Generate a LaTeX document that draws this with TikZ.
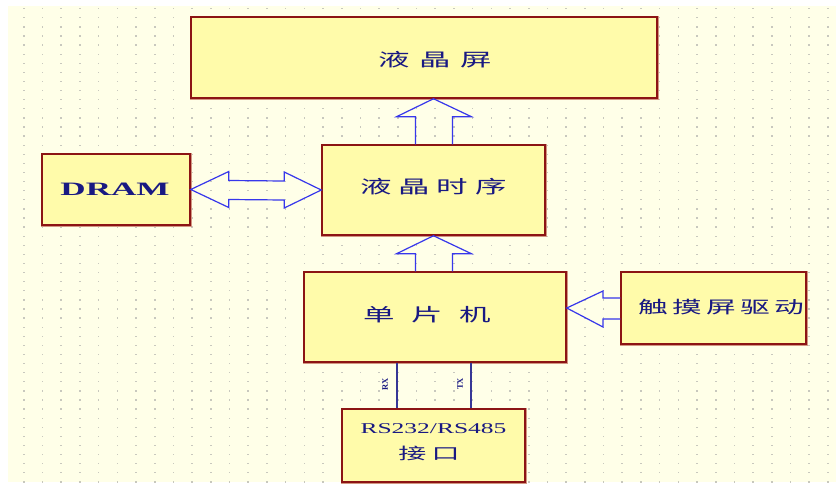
\documentclass[tikz,border=0pt]{standalone}
\usepackage{fontspec}
\usepackage{graphicx}
\setmainfont{Liberation Serif}
\newfontfamily\cjk{Noto Sans CJK SC}
\usetikzlibrary{calc}
\definecolor{bgc}{RGB}{255,255,232}
\definecolor{dotc}{RGB}{200,200,190}
\definecolor{boxfill}{RGB}{255,251,170}
\definecolor{boxline}{RGB}{140,20,20}
\definecolor{boxshadow}{RGB}{210,150,130}
\definecolor{txtc}{RGB}{25,25,130}
\definecolor{arrc}{RGB}{55,55,235}
\definecolor{linec}{RGB}{55,55,150}
\newcommand{\cntext}[2]{\scalebox{1.75}[1]{\fontsize{#1}{#1}\selectfont\cjk #2}}
\begin{document}
\begin{tikzpicture}[x=1pt,y=-1pt,
  box/.style={draw=boxline, fill=boxfill, line width=1.5pt, inner sep=0pt,
    preaction={draw=boxshadow, line width=3pt}},
  txt/.style={text=txtc, inner sep=0pt, anchor=center},
  blockarrow/.style={draw=arrc, line width=1.2pt, line join=miter},
  link/.style={draw=linec, line width=2.6pt},
  tiny/.style={text=txtc, inner sep=0pt, font=\fontsize{8.5}{8.5}\selectfont\bfseries, rotate=90}]
\useasboundingbox (0,0) rectangle (836,485);
\fill[white] (0,0) rectangle (836,485);
\fill[bgc] (8,6) rectangle (836,482);
\foreach \i in {0,...,43} {
  \foreach \j in {0,...,52} {
    \fill[dotc] ({23+18.7*\i},{8+9.1*\j}) rectangle ++(1.6,1.3);
  }
}
% boxes
\node[box, minimum width=466pt, minimum height=81pt] (lcd) at (424,57.5) {};
\node[box, minimum width=148pt, minimum height=71pt] (dram) at (116,189.5) {};
\node[box, minimum width=223pt, minimum height=90pt] (tm) at (433.5,190) {};
\node[box, minimum width=262pt, minimum height=90pt] (mcu) at (435,317) {};
\node[box, minimum width=185pt, minimum height=72pt] (touch) at (713.5,308) {};
\node[box, minimum width=183pt, minimum height=73pt] (rs) at (433.5,445.5) {};
% texts
\node[txt] (lcdt) at (435,60) {\cntext{18}{液\kern5.3pt 晶\kern5.3pt 屏}};
\node[txt] (dramt) at (115,189) {\scalebox{1.95}[1.05]{\fontsize{18}{18}\selectfont\bfseries DRAM}};
\node[txt] (tmt) at (433.5,187) {\cntext{18}{液\kern4pt 晶\kern4pt 时\kern4pt 序}};
\node[txt] (mcut) at (427.5,315) {\cntext{18}{单\kern9.5pt 片\kern9.5pt 机}};
\node[txt] (toucht) at (721,307.5) {\cntext{17}{触\kern2.4pt 摸\kern2.4pt 屏\kern2.4pt 驱\kern2.4pt 动}};
\node[txt] (rst1) at (433.5,429) {\scalebox{1.7}[1]{\fontsize{15}{15}\selectfont RS232/RS485}};
\node[txt] (rst2) at (429,453) {\cntext{16}{接\kern3pt 口}};
% up arrow tm -> lcd
\coordinate (t1) at (tm.north |- lcd.south);
\draw[blockarrow] ($(tm.north)+(-18,0)$) -- ($(t1)+(-18,18)$) -- ($(t1)+(-37,18)$) -- (t1)
  -- ($(t1)+(38,18)$) -- ($(t1)+(19,18)$) -- ($(tm.north)+(19,0)$);
% up arrow mcu -> tm
\coordinate (t2) at (tm.south);
\draw[blockarrow] ($(t2 |- mcu.north)+(-18,0)$) -- ($(t2)+(-18,18)$) -- ($(t2)+(-37,18)$) -- (t2)
  -- ($(t2)+(38,18)$) -- ($(t2)+(19,18)$) -- ($(t2 |- mcu.north)+(19,0)$);
% double arrow dram <-> tm
\coordinate (dl) at (dram.east);
\coordinate (dr) at (tm.west);
\draw[blockarrow] (dl) -- ($(dl)+(38,-18)$) -- ($(dl)+(38,-9)$) -- ($(dr)+(-37,-9)$) -- ($(dr)+(-37,-18)$)
  -- (dr) -- ($(dr)+(-37,18)$) -- ($(dr)+(-37,10)$) -- ($(dl)+(38,10)$) -- ($(dl)+(38,18)$) -- cycle;
% left arrow touch -> mcu
\coordinate (t3) at (mcu.east |- touch.west);
\draw[blockarrow] (touch.west |- 0,298) -- (603,298) -- (603,291) -- (t3) -- (603,327) -- (603,319) -- (touch.west |- 0,319);
% links mcu <-> rs
\coordinate (la) at ($(mcu.south)+(-38,0)$);
\coordinate (lb) at ($(mcu.south)+(36,0)$);
\draw[link] (la) -- (la |- rs.north);
\draw[link] (lb) -- (lb |- rs.north);
\node[tiny] (rx) at (385,384) {RX};
\node[tiny] (tx) at (460,384) {TX};
\end{tikzpicture}
\end{document}
